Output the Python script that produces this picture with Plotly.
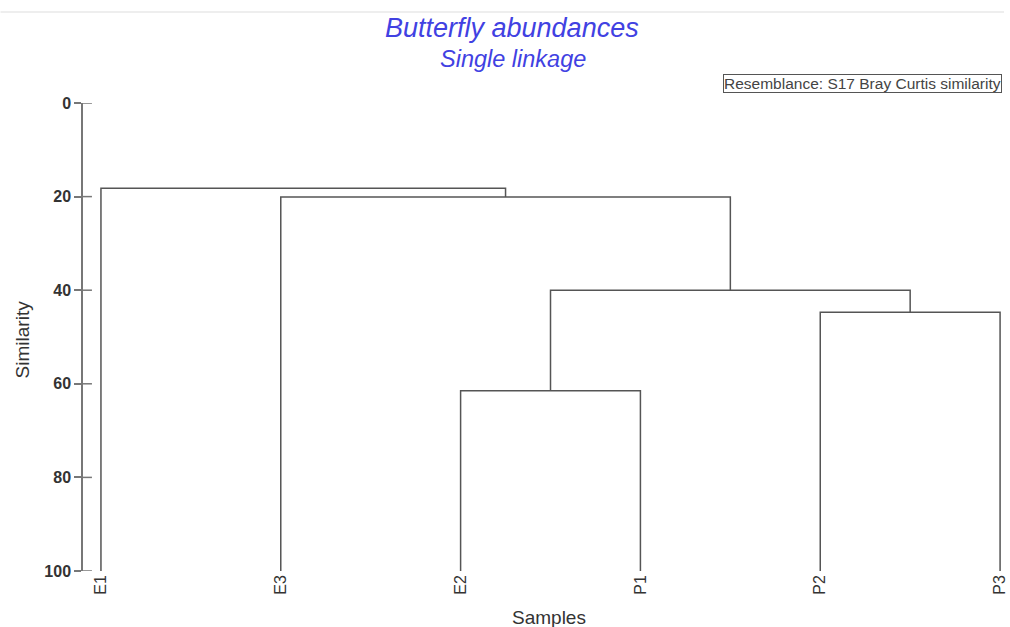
import plotly.graph_objects as go

# Leaves in dendrogram order
labels = ["E1", "E3", "E2", "P1", "P2", "P3"]
# Merges: cluster ids 0-5 are leaves, each merge creates a new id (6, 7, ...)
merge_a = [2, 4, 6, 1, 0]
merge_b = [3, 5, 7, 8, 9]
merge_sim = [61.5, 44.7, 40.0, 20.1, 18.2]
leaf_sim = 100
y_ticks = [0, 20, 40, 60, 80, 100]

pos = {i: float(i) for i in range(len(labels))}
hgt = {i: leaf_sim for i in range(len(labels))}
xs, ys = [], []
for k, (a, b, h) in enumerate(zip(merge_a, merge_b, merge_sim)):
    nid = len(labels) + k
    xs += [pos[a], pos[a], pos[b], pos[b], None]
    ys += [hgt[a], h, h, hgt[b], None]
    pos[nid] = (pos[a] + pos[b]) / 2
    hgt[nid] = h

fig = go.Figure()
fig.add_trace(go.Scatter(x=xs, y=ys, mode="lines",
                         line=dict(color="#555555", width=1.5),
                         hoverinfo="skip", showlegend=False))

font = "Liberation Sans, Arial, sans-serif"
PW, PH = 925, 468          # plot area size (px)
X0, YB = 83, 571           # page px of plot-area left / bottom


def px(x):
    return (x - X0) / PW


def py(y):
    return (YB - y) / PH


shapes = [dict(type="line", xref="paper", yref="paper", x0=px(0), x1=px(1010),
               y0=py(12), y1=py(12), line=dict(color="#eeeeee", width=2))]
for t in y_ticks:
    shapes.append(dict(type="line", xref="paper", yref="y", x0=0, x1=9 / PW,
                       y0=t, y1=t, line=dict(color="#777777", width=1.5)))


def ann(text, x, y, size, color="#333333", **kw):
    d = dict(text=text, xref="paper", yref="paper", x=px(x), y=py(y),
             xanchor="center", yanchor="middle", showarrow=False,
             font=dict(size=size, color=color, family=font))
    d.update(kw)
    return d


fig.update_layout(
    width=1010, height=627,
    margin=dict(l=83, r=2, t=103, b=56),
    paper_bgcolor="white", plot_bgcolor="white",
    font=dict(family=font, color="#333333"),
    showlegend=False,
    xaxis=dict(range=[-0.0998, 5.0107], tickmode="array",
               tickvals=list(range(len(labels))), ticktext=labels,
               tickangle=-90, showgrid=False, zeroline=False, showline=False,
               ticks="", ticklabeloverflow="allow",
               tickfont=dict(size=16, color="#333333"), fixedrange=True),
    yaxis=dict(range=[100, 0], tickmode="array", tickvals=y_ticks,
               showgrid=False, zeroline=False, showline=True,
               linecolor="#777777", linewidth=1.5, ticks="outside", ticklen=7,
               tickcolor="#777777", tickwidth=1.5,
               tickfont=dict(size=16, color="#333333", family=font, weight="bold"),
               fixedrange=True),
    shapes=shapes,
    annotations=[
        ann("<i>Butterfly abundances</i>", 515, 28, 27, "#4141e2"),
        ann("<i>Single linkage</i>", 516, 59, 23.5, "#4141e2"),
        ann("Resemblance: S17 Bray Curtis similarity", 727, 84, 15.5, "#444444",
            xanchor="left", bordercolor="#555555", borderwidth=1, borderpad=0,
            bgcolor="white"),
        ann("Similarity", 22, 339, 19, textangle=-90),
        ann("Samples", 552, 617, 19),
    ],
)

fig.write_html(
    "out.html",
    config={"displayModeBar": False},
    post_script="document.body.style.margin='0';document.body.style.overflow='hidden';",
)
